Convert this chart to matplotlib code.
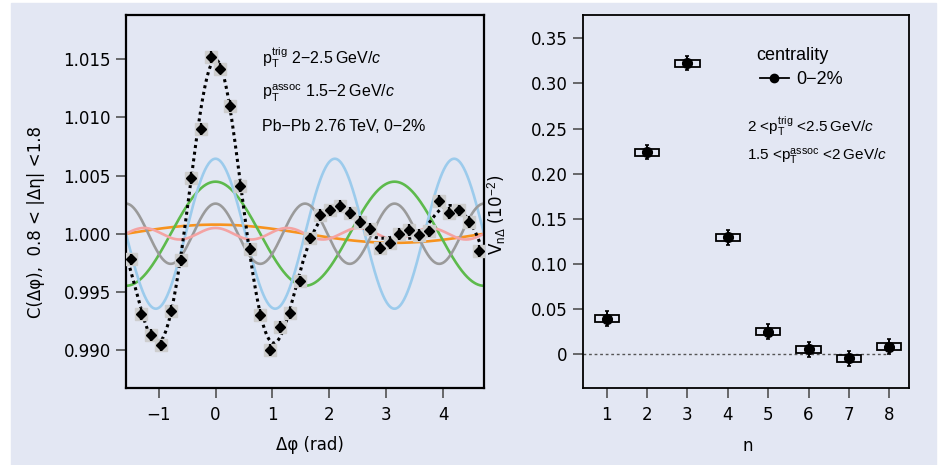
import numpy as np
import matplotlib
matplotlib.use("Agg")
import matplotlib.pyplot as plt
from matplotlib.patches import Rectangle
from matplotlib.lines import Line2D

# harmonics V_n (in units of 10^-2)
n_vals = [1, 2, 3, 4, 5, 6, 7, 8]
v_n = [0.0392, 0.2237, 0.3223, 0.1294, 0.0248, 0.0052, -0.0048, 0.0082]
v_stat = [0.008, 0.008, 0.008, 0.008, 0.008, 0.008, 0.008, 0.008]
v_syst = [0.004, 0.004, 0.004, 0.004, 0.004, 0.004, 0.004, 0.004]

# measured correlation, 36 bins over [-pi/2, 3pi/2]
corr = [0.9978, 0.9931, 0.9913, 0.9904, 0.9934, 0.9977, 1.0048, 1.0090,
        1.0152, 1.0142, 1.0110, 1.0041, 0.9987, 0.9930, 0.9900, 0.9920,
        0.9932, 0.9959, 0.9996, 1.0016, 1.0020, 1.0024, 1.0018, 1.0010,
        1.0004, 0.9988, 0.9992, 1.0000, 1.0003, 0.9999, 1.0002, 1.0028,
        1.0018, 1.0020, 1.0010, 0.9985]
corr_err = 0.0005
nbins = len(corr)
dphi = -np.pi / 2 + (np.arange(nbins) + 0.5) * 2 * np.pi / nbins

harm_colors = {1: '#f7931e', 2: '#5dba4c', 3: '#9ccbec', 4: '#9a9a9a', 5: '#f4a3a3'}

bg = '#e3e7f3'
narrow = ['Liberation Sans', 'DejaVu Sans']
MINUS = '\u2212'
THIN = '\u2009'

plt.rcParams['font.family'] = ['DejaVu Sans']
plt.rcParams['mathtext.fontset'] = 'custom'
plt.rcParams['mathtext.rm'] = 'Liberation Sans'
plt.rcParams['mathtext.it'] = 'Liberation Sans:italic'
plt.rcParams['mathtext.bf'] = 'Liberation Sans:bold'

fig = plt.figure(figsize=(9.4, 4.65), dpi=100, facecolor='white')
fig.patches.append(Rectangle((11 / 940, 0), (936 - 11) / 940, 1 - 3 / 465,
                             transform=fig.transFigure, color=bg, zorder=-10))

H = 465.0
W = 940.0
ax1 = fig.add_axes([126 / W, 1 - 388 / H, (484 - 126) / W, (388 - 15) / H])
ax2 = fig.add_axes([583 / W, 1 - 388 / H, (909 - 583) / W, (388 - 15) / H])

for ax in (ax1, ax2):
    ax.set_facecolor(bg)
    ax.tick_params(direction='out', length=7, width=1.1, color='#444444',
                   labelsize=12, pad=4)
ax1.tick_params(axis='x', pad=6)
ax2.tick_params(axis='x', pad=6)
for s in ax1.spines.values():
    s.set_linewidth(1.6)
for s in ax2.spines.values():
    s.set_linewidth(1.3)

# ---- left panel ----
phi = np.linspace(-np.pi / 2, 3 * np.pi / 2, 600)
total = np.ones_like(phi)
for n, v in zip(n_vals, v_n):
    comp = 2 * v / 100.0 * np.cos(n * phi)
    total = total + comp
    if n in harm_colors:
        ax1.plot(phi, 1 + comp, color=harm_colors[n], lw=1.9, zorder=2)

ax1.plot(phi, total, color='black', lw=2.2, ls=(0, (1, 1.2)), zorder=3)
ax1.plot(dphi, corr, 's', ms=8, color='#cdcdcd', zorder=4)
ax1.errorbar(dphi, corr, yerr=corr_err, xerr=0.06, fmt='D', ms=5.5,
             color='black', elinewidth=1.6, capsize=0, zorder=5)

ax1.set_xlim(-np.pi / 2, 3 * np.pi / 2)
ax1.set_ylim(0.98674, 1.0188)
ax1.set_xticks([-1, 0, 1, 2, 3, 4])
ax1.set_xticklabels([MINUS + '1', '0', '1', '2', '3', '4'])
ax1.set_yticks([0.990, 0.995, 1.000, 1.005, 1.010, 1.015])
ax1.set_yticklabels(['0.990', '0.995', '1.000', '1.005', '1.010', '1.015'])
ax1.set_xlabel('\u0394\u03c6 (rad)', fontsize=12)
ax1.xaxis.set_label_coords((310 - 126) / 358, -(436 - 388) / 373)
ax1.set_ylabel('C(\u0394\u03c6),  0.8 < |\u0394\u03b7| <1.8', fontsize=12)
ax1.yaxis.set_label_coords((45 - 126) / 358, (388 - 222) / 373)

ptrig = r'$\mathrm{p}_{\mathrm{T}}^{\mathrm{trig}}$'
passoc = r'$\mathrm{p}_{\mathrm{T}}^{\mathrm{assoc}}$'
gevc = 'GeV/' + r'$c$'

ax1.text(0.38, 0.870, ptrig + ' 2' + MINUS + '2.5' + THIN + gevc,
         transform=ax1.transAxes, fontsize=11.5, family=narrow, va='baseline')
ax1.text(0.38, 0.779, passoc + ' 1.5' + MINUS + '2' + THIN + gevc,
         transform=ax1.transAxes, fontsize=11.5, family=narrow, va='baseline')
ax1.text(0.38, 0.689, 'Pb' + MINUS + 'Pb 2.76' + THIN + 'TeV, 0' + MINUS + '2%',
         transform=ax1.transAxes, fontsize=11.5, family=narrow, va='baseline')

# ---- right panel ----
for n, v, sy in zip(n_vals, v_n, v_syst):
    ax2.add_patch(Rectangle((n - 0.3, v - sy), 0.6, 2 * sy, fill=False,
                            ec='black', lw=1.3, zorder=3))
ax2.errorbar(n_vals, v_n, yerr=v_stat, fmt='o', ms=7, color='black',
             elinewidth=1.4, capsize=1.5, capthick=1.2, zorder=4)
ax2.hlines(0, 0.41, 8, colors='#555555', linestyles=(0, (2, 2)), lw=1.0, zorder=1)

ax2.set_xlim(0.41, 8.49)
ax2.set_ylim(-0.0376, 0.3758)
ax2.set_xticks(n_vals)
ax2.set_yticks([0, 0.05, 0.10, 0.15, 0.20, 0.25, 0.30, 0.35])
ax2.set_yticklabels(['0', '0.05', '0.10', '0.15', '0.20', '0.25', '0.30', '0.35'])
ax2.set_xlabel('n', fontsize=12)
ax2.xaxis.set_label_coords((748 - 583) / 326, -(437 - 388) / 373)
ax2.set_ylabel(r'V$_{\mathrm{n}\Delta}$ (10$^{-2}$)', fontsize=12)
ax2.yaxis.set_label_coords((508 - 583) / 326, (388 - 215) / 373)

ax2.text(0.53, 0.879, 'centrality', transform=ax2.transAxes, fontsize=13,
         family=narrow, va='baseline')
handle = Line2D([], [], color='black', marker='o', ms=6, lw=1.3)
leg = ax2.legend([handle], ['0' + MINUS + '2%'], loc='center left',
                 bbox_to_anchor=(0.515, 0.826), frameon=False, fontsize=13,
                 handlelength=1.6, handletextpad=0.4, borderpad=0)
for t in leg.get_texts():
    t.set_family(narrow)
ax2.text(0.502, 0.686, '2 <' + ptrig + ' <2.5' + THIN + gevc,
         transform=ax2.transAxes, fontsize=11, family=narrow, va='baseline')
ax2.text(0.502, 0.609, '1.5 <' + passoc + ' <2' + THIN + gevc,
         transform=ax2.transAxes, fontsize=11, family=narrow, va='baseline')

fig.savefig('out.png', dpi=100, facecolor=fig.get_facecolor())
